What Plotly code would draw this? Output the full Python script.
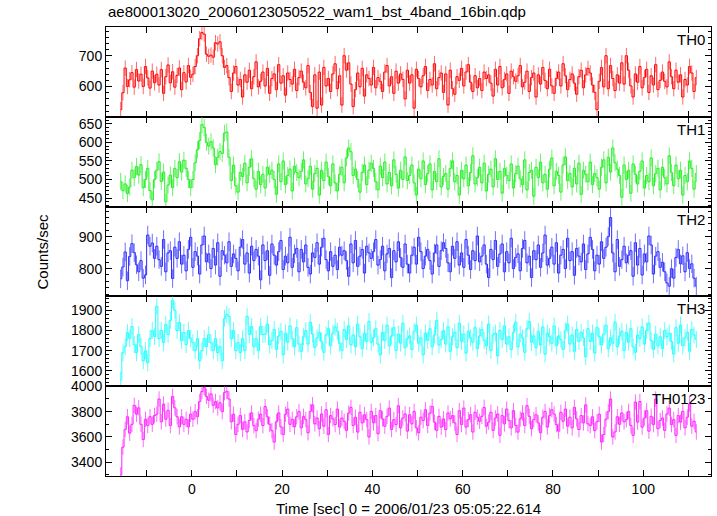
import plotly.graph_objects as go
from plotly.subplots import make_subplots

# ---- data (0.5 s bins, count rates) ----
T0 = -15.75      # centre of first bin [s]
BIN = 0.5        # bin width [s]

TH0 = [
    525, 580, 660, 600, 622, 645, 598, 655, 618, 640, 600, 665, 628, 595, 650, 612,
    640, 605, 655, 578, 632, 670, 612, 648, 598, 636, 660, 590, 645, 615, 668, 630,
    640, 665, 700, 755, 775, 770, 705, 698, 702, 695, 742, 738, 745, 700, 662, 668,
    629, 584, 644, 665, 605, 623, 566, 638, 614, 653, 593, 632, 680, 599, 617, 647,
    602, 659, 578, 626, 641, 590, 671, 611, 635, 572, 644, 623, 608, 656, 587, 629,
    650, 614, 596, 668, 581, 535, 638, 530, 647, 540, 662, 602, 626, 584, 641, 674,
    593, 635, 540, 700, 653, 677, 608, 535, 590, 644, 599, 659, 569, 638, 626, 605,
    662, 596, 629, 617, 584, 647, 668, 602, 632, 578, 650, 611, 641, 623, 560, 653,
    611, 638, 530, 656, 626, 599, 635, 665, 587, 623, 605, 674, 593, 629, 644, 581,
    641, 540, 653, 593, 575, 632, 620, 659, 602, 647, 671, 614, 584, 635, 596, 626,
    587, 647, 626, 638, 611, 569, 656, 605, 665, 596, 623, 641, 578, 650, 632, 617,
    635, 668, 599, 614, 650, 584, 629, 644, 566, 638, 608, 662, 620, 593, 656, 602,
    578, 626, 647, 602, 674, 635, 590, 623, 641, 611, 575, 632, 653, 596, 638, 659,
    644, 605, 581, 525, 617, 662, 599, 700, 593, 668, 626, 587, 638, 611, 677, 608,
    700, 653, 602, 566, 641, 614, 665, 596, 629, 656, 581, 635, 605, 671, 590, 620,
    647, 617, 599, 680, 632, 593, 653, 614, 638, 566, 623, 605, 665, 644, 584, 629,
]

TH1 = [
    495, 470, 488, 462, 480, 525, 505, 535, 512, 540, 478, 500, 530, 470, 445, 500,
    525, 548, 495, 520, 440, 485, 512, 478, 530, 505, 548, 520, 552, 530, 500, 478,
    500, 545, 580, 605, 648, 640, 600, 590, 602, 585, 540, 560, 575, 570, 625, 628,
    560, 497, 539, 483, 466, 519, 508, 544, 491, 533, 556, 502, 474, 522, 486, 514,
    477, 533, 514, 525, 500, 460, 542, 494, 550, 486, 511, 528, 469, 536, 519, 505,
    522, 553, 488, 502, 536, 474, 516, 530, 458, 525, 497, 547, 508, 483, 542, 491,
    469, 514, 533, 491, 558, 585, 575, 511, 528, 500, 466, 519, 539, 486, 525, 544,
    530, 494, 472, 536, 505, 547, 488, 519, 483, 553, 514, 477, 525, 500, 561, 497,
    511, 539, 491, 458, 528, 502, 550, 486, 516, 542, 472, 522, 494, 556, 480, 508,
    516, 474, 530, 550, 494, 511, 458, 525, 502, 539, 483, 519, 564, 488, 505, 533,
    491, 544, 469, 514, 528, 480, 556, 500, 522, 463, 530, 511, 497, 542, 477, 516,
    536, 502, 486, 553, 472, 519, 525, 455, 533, 505, 547, 491, 514, 474, 528, 558,
    483, 522, 511, 466, 539, 561, 497, 516, 480, 530, 488, 544, 460, 525, 514, 494,
    547, 486, 516, 505, 474, 533, 553, 491, 560, 520, 585, 545, 528, 511, 452, 539,
    500, 525, 463, 542, 514, 488, 522, 550, 477, 511, 494, 558, 483, 516, 530, 472,
    533, 505, 488, 564, 519, 483, 539, 502, 525, 458, 511, 494, 550, 530, 474, 516,
]

TH2 = [
    768, 805, 852, 762, 838, 878, 850, 812, 790, 825, 770, 780, 905, 870, 880, 832,
    870, 828, 807, 891, 790, 849, 856, 769, 867, 832, 884, 814, 842, 793, 860, 898,
    804, 853, 839, 783, 874, 902, 821, 846, 800, 863, 811, 881, 776, 856, 842, 818,
    884, 807, 846, 832, 793, 867, 891, 814, 849, 786, 870, 825, 860, 839, 765, 874,
    825, 856, 779, 877, 842, 811, 853, 888, 797, 839, 818, 898, 804, 846, 863, 790,
    860, 821, 874, 804, 783, 849, 835, 881, 814, 867, 895, 828, 793, 853, 807, 842,
    797, 867, 842, 856, 825, 776, 877, 818, 888, 807, 839, 860, 786, 870, 849, 832,
    853, 891, 811, 828, 870, 793, 846, 863, 772, 856, 821, 884, 835, 804, 877, 814,
    786, 842, 867, 814, 898, 853, 800, 839, 860, 825, 783, 849, 874, 807, 856, 881,
    863, 818, 790, 870, 832, 884, 811, 849, 804, 891, 842, 797, 856, 825, 902, 821,
    839, 874, 814, 772, 860, 828, 888, 807, 846, 877, 790, 853, 818, 895, 800, 835,
    846, 793, 863, 888, 818, 839, 772, 856, 828, 874, 804, 849, 905, 811, 832, 867,
    814, 881, 786, 842, 860, 800, 895, 825, 853, 779, 863, 839, 821, 877, 797, 846,
    898, 860, 793, 842, 814, 884, 832, 867, 900, 960, 849, 790, 891, 807, 828, 870,
    818, 842, 856, 776, 881, 811, 863, 780, 846, 821, 902, 874, 783, 839, 853, 804,
    820, 790, 755, 745, 800, 770, 835, 860, 815, 840, 790, 850, 800, 815, 770, 745,
]

TH3 = [
    1555, 1690, 1720, 1790, 1760, 1820, 1730, 1690, 1780, 1720, 1650, 1700, 1640, 1760, 1800, 1770,
    1920, 1760, 1800, 1740, 1830, 1780, 1850, 1950, 1900, 1800, 1840, 1750, 1790, 1730, 1800, 1760,
    1740, 1700, 1760, 1650, 1700, 1760, 1720, 1780, 1740, 1700, 1760, 1690, 1720, 1650, 1860, 1880,
    1870, 1760, 1800, 1700, 1740, 1690, 1760, 1700, 1870, 1780, 1820, 1720, 1760, 1700, 1820, 1780,
    1782, 1832, 1728, 1751, 1805, 1706, 1773, 1796, 1679, 1787, 1742, 1823, 1760, 1719, 1814, 1733,
    1697, 1769, 1800, 1733, 1841, 1782, 1715, 1764, 1791, 1746, 1692, 1778, 1809, 1724, 1787, 1818,
    1796, 1737, 1701, 1805, 1755, 1823, 1728, 1778, 1719, 1832, 1769, 1710, 1787, 1746, 1845, 1742,
    1764, 1809, 1733, 1679, 1791, 1751, 1827, 1724, 1773, 1814, 1701, 1782, 1737, 1836, 1715, 1760,
    1773, 1706, 1796, 1827, 1737, 1764, 1679, 1787, 1751, 1809, 1719, 1778, 1850, 1728, 1755, 1800,
    1733, 1818, 1697, 1769, 1791, 1715, 1836, 1746, 1782, 1688, 1796, 1764, 1742, 1814, 1710, 1773,
    1805, 1751, 1724, 1832, 1701, 1778, 1787, 1674, 1800, 1755, 1823, 1733, 1769, 1706, 1791, 1841,
    1719, 1782, 1764, 1692, 1809, 1845, 1742, 1773, 1715, 1796, 1728, 1818, 1683, 1787, 1769, 1737,
    1823, 1724, 1773, 1755, 1706, 1800, 1832, 1733, 1778, 1697, 1805, 1746, 1791, 1764, 1670, 1809,
    1746, 1787, 1688, 1814, 1769, 1728, 1782, 1827, 1710, 1764, 1737, 1841, 1719, 1773, 1796, 1701,
    1791, 1742, 1809, 1719, 1692, 1778, 1760, 1818, 1733, 1800, 1836, 1751, 1706, 1782, 1724, 1769,
    1710, 1800, 1769, 1787, 1746, 1683, 1814, 1737, 1827, 1724, 1764, 1791, 1697, 1805, 1778, 1755,
]

TH0123 = [
    3300, 3520, 3660, 3760, 3630, 3700, 3850, 3780, 3830, 3700, 3580, 3740, 3690, 3760, 3700, 3770,
    3780, 3900, 3720, 3860, 3740, 3810, 3690, 3920, 3830, 3760, 3680, 3760, 3700, 3740, 3680, 3780,
    3740, 3800, 3760, 3880, 3960, 3990, 3920, 3890, 3940, 3850, 3880, 3830, 3870, 3800, 3950, 3960,
    3900, 3720, 3780, 3620, 3700, 3770, 3660, 3720, 3640, 3730, 3790, 3690, 3650, 3740, 3780, 3690,
    3840, 3760, 3700, 3650, 3560, 3720, 3790, 3680, 3620, 3780, 3820, 3700, 3740, 3680, 3760, 3800,
    3672, 3763, 3737, 3633, 3802, 3854, 3704, 3750, 3665, 3782, 3685, 3815, 3620, 3769, 3743, 3698,
    3821, 3678, 3750, 3724, 3652, 3789, 3834, 3691, 3756, 3639, 3795, 3711, 3776, 3737, 3600, 3802,
    3711, 3769, 3626, 3808, 3743, 3685, 3763, 3828, 3659, 3737, 3698, 3847, 3672, 3750, 3782, 3646,
    3776, 3704, 3802, 3672, 3633, 3756, 3730, 3815, 3691, 3789, 3841, 3717, 3652, 3763, 3678, 3743,
    3659, 3789, 3743, 3769, 3711, 3620, 3808, 3698, 3828, 3678, 3737, 3776, 3639, 3795, 3756, 3724,
    3763, 3834, 3685, 3717, 3795, 3652, 3750, 3782, 3613, 3769, 3704, 3821, 3730, 3672, 3808, 3691,
    3639, 3743, 3789, 3691, 3847, 3763, 3665, 3737, 3776, 3711, 3633, 3756, 3802, 3678, 3769, 3815,
    3782, 3698, 3646, 3795, 3724, 3821, 3685, 3756, 3672, 3834, 3743, 3659, 3769, 3711, 3854, 3704,
    3690, 3760, 3650, 3720, 3780, 3560, 3620, 3740, 3800, 3900, 3600, 3640, 3760, 3700, 3790, 3720,
    3737, 3802, 3691, 3613, 3876, 3717, 3880, 3678, 3750, 3808, 3646, 3763, 3698, 3900, 3665, 3730,
    3750, 3652, 3782, 3828, 3698, 3737, 3613, 3769, 3717, 3802, 3672, 3756, 3860, 3685, 3724, 3640,
]

PANEL_NAMES = ["TH0", "TH1", "TH2", "TH3", "TH0123"]
SERIES = [TH0, TH1, TH2, TH3, TH0123]
ERRORS = [25, 23, 29, 42, 61]          # typical 1-sigma error per panel
Y_RANGES = [[502, 793], [427, 669], [713, 994], [1524, 1969], [3292, 4001]]
Y_MAJOR = [100, 50, 100, 100, 200]
Y_MINOR = [20, 10, 20, 20, 100]
X_RANGE = [-19, 115]
X_TICKS = [-10, 0, 10, 20, 30, 40, 50, 60, 70, 80, 90, 100, 110]

TITLE = "ae800013020_20060123050522_wam1_bst_4band_16bin.qdp"
X_TITLE = "Time [sec] 0 = 2006/01/23 05:05:22.614"
Y_TITLE = "Counts/sec"

COLORS = ["#ff0000", "#22ee22", "#2a2aff", "#22ffff", "#ff22ff"]
ERR_COLORS = ["rgba(255,40,40,0.7)", "rgba(40,240,40,0.7)", "rgba(50,50,255,0.7)",
              "rgba(40,255,255,0.75)", "rgba(255,40,255,0.7)"]

FONT = "Liberation Sans, Arial, Helvetica, sans-serif"

fig = make_subplots(rows=5, cols=1, shared_xaxes=True, vertical_spacing=0)

for i, (name, vals) in enumerate(zip(PANEL_NAMES, SERIES)):
    fig.add_trace(go.Scatter(
        x0=T0, dx=BIN, y=vals, mode="lines", line_shape="hvh",
        line=dict(color=COLORS[i], width=1),
        error_y=dict(type="constant", value=ERRORS[i], color=ERR_COLORS[i],
                     thickness=1, width=0),
        showlegend=False, hoverinfo="skip", name=name,
    ), row=i + 1, col=1)

    ax_common = dict(showline=True, linecolor="black", linewidth=1, mirror="allticks",
                     ticks="inside", tickcolor="black", showgrid=False, zeroline=False,
                     tickfont=dict(family=FONT, size=14, color="black"))
    fig.update_yaxes(range=Y_RANGES[i], dtick=Y_MAJOR[i], tick0=0, ticklen=6,
                     minor=dict(dtick=Y_MINOR[i], tick0=0, ticks="inside", ticklen=3,
                                tickcolor="black", showgrid=False),
                     **ax_common, row=i + 1, col=1)
    fig.update_xaxes(range=X_RANGE, tickvals=X_TICKS,
                     ticktext=[str(v) if v % 20 == 0 else "" for v in X_TICKS],
                     ticklen=6, **ax_common, row=i + 1, col=1)

    # panel label
    yref = "y domain" if i == 0 else f"y{i + 1} domain"
    fig.add_annotation(text=name, xref="paper", yref=yref, x=1, y=1,
                       xanchor="right", yanchor="top", xshift=-4, yshift=-2,
                       showarrow=False, font=dict(family=FONT, size=15, color="black"))

fig.add_annotation(text=TITLE, xref="paper", yref="paper", x=0, y=1, xanchor="left",
                   yanchor="bottom", yshift=5, showarrow=False,
                   font=dict(family=FONT, size=15, color="black"))
fig.add_annotation(text=X_TITLE, xref="paper", yref="paper", x=0.5, y=0, xanchor="center",
                   yanchor="middle", yshift=-32, showarrow=False,
                   font=dict(family=FONT, size=15, color="black"))
fig.add_annotation(text=Y_TITLE, xref="paper", yref="paper", x=0, y=0.5, xanchor="center",
                   yanchor="middle", xshift=-64, textangle=-90, showarrow=False,
                   font=dict(family=FONT, size=15, color="black"))

fig.update_layout(width=717, height=516, margin=dict(l=106, r=6, t=27, b=40),
                  paper_bgcolor="white", plot_bgcolor="white", showlegend=False)

fig.write_html("out.html", config={"displayModeBar": False},
               post_script="document.body.style.margin='0';document.body.style.overflow='hidden';")
